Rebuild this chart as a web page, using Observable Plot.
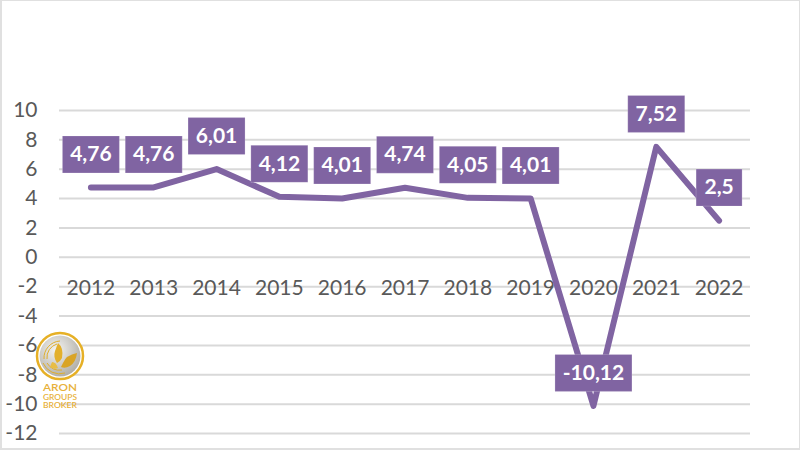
<!DOCTYPE html>
<html><head><meta charset="utf-8">
<script src="https://cdn.jsdelivr.net/npm/d3@7"></script>
<script src="https://cdn.jsdelivr.net/npm/@observablehq/plot@0.6"></script>
<style>
html,body{margin:0;padding:0;background:#fff}
#wrap{position:relative;width:800px;height:450px;overflow:hidden;font-family:Lato,sans-serif}
#wrap>svg{display:block}
#frame{position:absolute;left:0;top:0;width:797px;height:447px;border:solid #e0e0e0;border-width:1px 1px 2px 2px;pointer-events:none}
#logo{position:absolute;left:30px;top:325px}
</style></head><body>
<div id="wrap"></div>
<script>
const years = ["2012","2013","2014","2015","2016","2017","2018","2019","2020","2021","2022"];
const values = [4.76,4.76,6.01,4.12,4.01,4.74,4.05,4.01,-10.12,7.52,2.5];
const labels = ["4,76","4,76","6,01","4,12","4,01","4,74","4,05","4,01","-10,12","7,52","2,5"];
const yTicks = [10,8,6,4,2,0,-2,-4,-6,-8,-10,-12];
const purple = "#8064a2";
const rows = years.map((year,i)=>({year,value:values[i],label:labels[i]}));
const boxWidth = l => l.length===3 ? 46 : l.length===6 ? 77 : 57;
const box = w => ({draw(ctx){ctx.rect(-w/2,-18.5,w,37);}});
const plot = Plot.plot({
  width:800,height:450,marginTop:110,marginBottom:17,marginLeft:59,marginRight:50,
  style:{background:"transparent",fontFamily:"Lato, sans-serif"},
  x:{type:"point",domain:years,padding:0.5,round:false,axis:null},
  y:{domain:[-12,10],axis:null},
  marks:[
    Plot.gridY(yTicks,{stroke:"#d9d9d9",strokeWidth:2,strokeOpacity:1}),
    Plot.axisY(yTicks,{anchor:"left",tickSize:0,tickPadding:22,label:null,tickFormat:d=>String(d),fontSize:21,fill:"#595959"}),
    Plot.text(years,{x:d=>d,y:()=>-2,dy:2,text:d=>d,fontSize:21,fill:"#595959"}),
    Plot.line(rows,{x:"year",y:"value",stroke:purple,strokeWidth:6,strokeLinecap:"round",strokeLinejoin:"round"}),
    ...rows.map(r=>Plot.dot([r],{x:"year",y:"value",dy:-33,symbol:box(boxWidth(r.label)),r:10,fill:purple,stroke:"#fff",strokeOpacity:0.2,strokeWidth:1})),
    Plot.text(rows,{x:"year",y:"value",dy:-33,text:"label",fill:"#fff",fontSize:21,fontWeight:700})
  ]
});
const wrap=document.getElementById("wrap");
wrap.appendChild(plot);
wrap.insertAdjacentHTML("beforeend",`<div id="frame"></div>
<svg id="logo" width="60" height="90" viewBox="0 0 60 90">
<defs><radialGradient id="g" cx="0.4" cy="0.35" r="0.75"><stop offset="0" stop-color="#f4f4f2"/><stop offset="1" stop-color="#a9a69e"/></radialGradient></defs>
<circle cx="30" cy="31" r="23" fill="#fff" stroke="#e6b026" stroke-width="2.5"/>
<circle cx="30" cy="31" r="20.5" fill="url(#g)"/>
<path d="M14 34a17 17 0 0 1 16-18M17 34a14 14 0 0 1 10-15M13 38a18 18 0 0 0 22 10M17 38a15 15 0 0 0 15 7" fill="none" stroke="#dfae2c" stroke-width="1"/>
<path d="M28 18q6 5 4 15q-2 4-5 5q-4-6-2-12z" fill="#e3b02c"/>
<path d="M33 38q3-8 14-10q-1 9-7 13q-5 3-9 1z" fill="#d9a426"/>
<path d="M22 37q4 0 6 6q-4 2-8-1z" fill="#e8bd45"/>
<g font-family="Lato,sans-serif" fill="#e8b13a" text-anchor="middle" font-weight="600">
<text x="30" y="66" font-size="10" textLength="34" lengthAdjust="spacingAndGlyphs">ARON</text>
<text x="30" y="75" font-size="7" textLength="34" lengthAdjust="spacingAndGlyphs">GROUPS</text>
<text x="30" y="83" font-size="7" textLength="34" lengthAdjust="spacingAndGlyphs">BROKER</text></g></svg>`);
</script></body></html>
